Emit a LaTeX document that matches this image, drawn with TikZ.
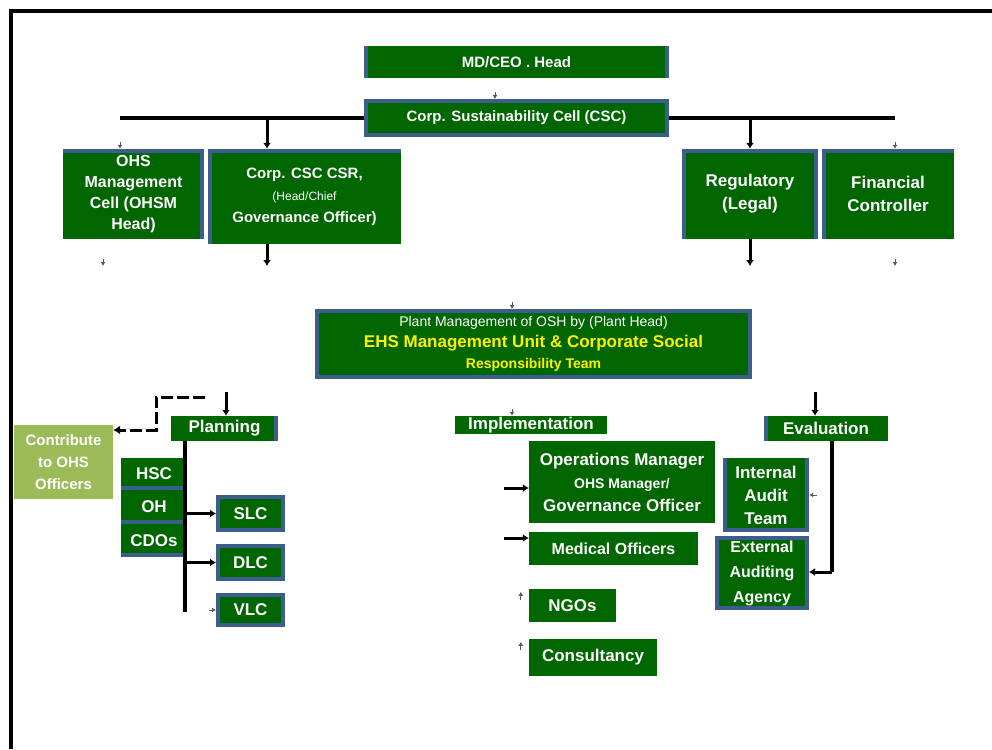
\documentclass[tikz,border=0pt]{standalone}
\usepackage{fontspec}
\setmainfont{Liberation Sans}
\usetikzlibrary{arrows.meta,positioning,calc}
\definecolor{boxgreen}{RGB}{0,102,0}
\definecolor{rimblue}{RGB}{59,94,140}
\definecolor{leafgreen}{RGB}{155,187,89}
\tikzset{
    box/.style={fill=boxgreen,draw=rimblue,line width=4pt,align=center,text=white,font=\bfseries\fontsize{17}{23}\selectfont,inner sep=0pt},
    plainbox/.style={fill=boxgreen,align=center,text=white,font=\bfseries\fontsize{17}{23}\selectfont,inner sep=0pt},
    rim/.style={rimblue,line width=4pt},
    line/.style={line width=3.5pt},
    arrow/.style={-{Latex[length=6pt,width=8pt]},line width=3pt},
    dashline/.style={-{Latex[length=7pt,width=9pt]},line width=3pt,dash pattern=on 12pt off 4pt},
    stub/.style={-{Latex[length=4pt,width=5pt]},line width=1pt,black!65}
}

\begin{document}
\begin{tikzpicture}[x=1pt,y=-1pt]
    \useasboundingbox (0,0) rectangle (992,749);
    \draw[line width=3.7pt] (10.8,749) -- (10.8,10.8) -- (992,10.8);

    % top of the chart
    \node[plainbox,minimum width=305pt,minimum height=32pt,font=\bfseries\fontsize{15}{17}\selectfont] (head) at (516.5,62) {MD/CEO . Head};
    \node[box,minimum width=301pt,minimum height=34pt,font=\bfseries\fontsize{15}{17}\selectfont] (cell) at (516.5,118) {Corp. Sustainability Cell (CSC)};
    \draw[rim] ([xshift=2pt]head.north west) -- ([xshift=2pt]head.south west);
    \draw[rim] ([xshift=-2pt]head.north east) -- ([xshift=-2pt]head.south east);

    % second row
    \node[plainbox,minimum width=141pt,minimum height=90pt,font=\bfseries\fontsize{16}{21}\selectfont] (ohs) at (133.5,194) {OHS\\Management\\Cell (OHSM\\Head)};
    \node[plainbox,minimum width=193pt,minimum height=95pt,font=\bfseries\fontsize{15}{22}\selectfont] (corp) at (304.5,196.5) {Corp. CSC CSR,\\{\mdseries\fontsize{12}{14}\selectfont (Head/Chief}\\Governance Officer)};
    \node[plainbox,minimum width=136pt,minimum height=90pt] (reg) at (750,194) {Regulatory\\(Legal)};
    \node[plainbox,minimum width=132pt,minimum height=90pt] (fin) at (888,194) {Financial\\Controller};
    \draw[rim] ([yshift=-2pt]ohs.north west) -- ([yshift=-2pt]ohs.north east);
    \draw[rim] ([xshift=-2pt]ohs.north east) -- ([xshift=-2pt]ohs.south east);
    \draw[rim] ([yshift=-2pt]corp.north west) -- ([yshift=-2pt]corp.north east);
    \draw[rim] ([xshift=2pt]corp.north west) -- ([xshift=2pt]corp.south west);
    \draw[rim] ([xshift=2pt]reg.south west) -- ([xshift=2pt,yshift=-2pt]reg.north west) -- ([xshift=-2pt,yshift=-2pt]reg.north east) -- ([xshift=-2pt]reg.south east);
    \draw[rim] ([xshift=2pt]fin.south west) -- ([xshift=2pt,yshift=-2pt]fin.north west) -- ([yshift=-2pt]fin.north east);

    \node[box,minimum width=433pt,minimum height=66pt,font=\bfseries\fontsize{17}{21}\selectfont] (plant) at (533.5,344)
        {{\mdseries\fontsize{14}{16}\selectfont Plant Management of OSH by (Plant Head)}\\\textcolor{yellow}{EHS Management Unit \& Corporate Social}\\\textcolor{yellow}{\fontsize{14}{16}\selectfont Responsibility Team}};

    % planning
    \node[plainbox,minimum width=107pt,minimum height=25pt] (plan) at (224.5,428.5) {Planning};
    \draw[rim] ([xshift=-2pt]plan.north east) -- ([xshift=-2pt]plan.south east);
    \node[plainbox,fill=leafgreen,minimum width=99pt,minimum height=74pt,font=\bfseries\fontsize{15}{22}\selectfont] (contrib) at (63.5,462) {Contribute\\to OHS\\Officers};
    \node[plainbox,minimum width=66pt,minimum height=32pt] (hsc) at (154,474) {HSC};
    \node[plainbox,minimum width=66pt,minimum height=33pt,below=0pt of hsc] (oh) {OH};
    \node[plainbox,minimum width=66pt,minimum height=33pt,below=0pt of oh] (cdos) {CDOs};
    \foreach \n in {hsc,oh,cdos}{
        \draw[rim] ([xshift=-2pt]\n.north east) -- ([xshift=-2pt,yshift=2pt]\n.south east) -- ([yshift=2pt]\n.south west);
    }
    \node[box,minimum width=65pt,minimum height=33pt] (slc) at (250.5,513.5) {SLC};
    \node[box,minimum width=65pt,minimum height=33pt] (dlc) at (250.5,562.5) {DLC};
    \node[box,minimum width=65pt,minimum height=30pt] (vlc) at (250.5,610) {VLC};

    % implementation
    \node[plainbox,minimum width=152pt,minimum height=18pt] (impl) at (531,425) {Implementation};
    \node[plainbox,minimum width=186pt,minimum height=82pt] (ops) at (622,482) {Operations Manager\\{\fontsize{14}{16}\selectfont OHS Manager/}\\Governance Officer};
    \node[plainbox,minimum width=169pt,minimum height=33pt,font=\bfseries\fontsize{16}{18}\selectfont] (med) at (613.5,548.5) {Medical Officers};
    \node[plainbox,minimum width=87pt,minimum height=33pt] (ngo) at (572.5,605.5) {NGOs};
    \node[plainbox,minimum width=128pt,minimum height=37pt] (cons) at (593,657.5) {Consultancy};

    % evaluation
    \node[plainbox,minimum width=124pt,minimum height=25pt] (eval) at (826,428.5) {Evaluation};
    \node[plainbox,minimum width=86pt,minimum height=74pt] (int) at (766,495) {Internal\\Audit\\Team};
    \node[box,minimum width=90pt,minimum height=70pt,font=\bfseries\fontsize{16}{25}\selectfont] (ext) at (762,573) {External\\Auditing\\Agency};
    \draw[rim] ([xshift=2pt]eval.north west) -- ([xshift=2pt]eval.south west);
    \draw[rim] ([xshift=2pt]int.north west) -- ([xshift=2pt,yshift=2pt]int.south west) -- ([xshift=-2pt,yshift=2pt]int.south east) -- ([xshift=-2pt]int.north east);

    % connectors
    \coordinate (barL) at (120,118);
    \coordinate (barR) at (895,118);
    \coordinate (dropL) at (267,118);
    \coordinate (gapL) at (267,266);
    \coordinate (gapR) at (750,266);
    \coordinate (tickL) at (103,266);
    \coordinate (tickR) at (895,266);
    \draw[line] (barL) -- (cell.west);
    \draw[line] (cell.east) -- (barR);
    \draw[arrow] (dropL) -- (dropL |- corp.north);
    \draw[arrow] (reg.north |- barR) -- (reg.north);
    \draw[arrow] (gapL |- corp.south) -- (gapL);
    \draw[arrow] (reg.south) -- (gapR);

    \coordinate (planin) at (226,392);
    \coordinate (dstart) at (205,397);
    \coordinate (dturn) at (156,430);
    \coordinate (trunk) at (185,612);
    \draw[arrow] (planin) -- (planin |- plan.north);
    \draw[dashline] (dstart) -| (dturn) -- (contrib.east |- dturn);
    \draw[line] (trunk |- plan.south) -- (trunk);
    \draw[arrow] (trunk |- slc.west) -- (slc.west);
    \draw[arrow] (trunk |- dlc.west) -- (dlc.west);

    \coordinate (implL) at (504,488);
    \coordinate (medL) at (504,538);
    \draw[arrow] (implL) -- (implL -| ops.west);
    \draw[arrow] (medL) -- (medL -| med.west);

    \coordinate (evalin) at (815,392);
    \coordinate (evtrunk) at (832,572);
    \draw[arrow] (evalin) -- (evalin |- eval.north);
    \draw[line] (evtrunk |- eval.south) -- (evtrunk);
    \draw[arrow] (evtrunk) -- (evtrunk -| ext.east);

    % loose arrow tips
    \draw[stub] ([xshift=-13.5pt,yshift=7pt]ohs.north) -- ([xshift=-13.5pt]ohs.north);
    \draw[stub] ([xshift=7pt,yshift=7pt]fin.north) -- ([xshift=7pt]fin.north);
    \draw[stub] ([yshift=7pt]tickL) -- (tickL);
    \draw[stub] ([yshift=7pt]tickR) -- (tickR);
    \draw[stub] ([xshift=-21.5pt,yshift=7pt]cell.north) -- ([xshift=-21.5pt]cell.north);
    \draw[stub] ([xshift=-21.5pt,yshift=7pt]plant.north) -- ([xshift=-21.5pt]plant.north);
    \draw[stub] ([xshift=-19pt,yshift=7pt]impl.north) -- ([xshift=-19pt]impl.north);
    \draw[stub] ([xshift=-7pt]vlc.west) -- (vlc.west);
    \draw[stub] ([xshift=-8pt,yshift=-11pt]ngo.north west) -- ([xshift=-8pt,yshift=-3pt]ngo.north west);
    \draw[stub] ([xshift=-8pt,yshift=-11pt]cons.north west) -- ([xshift=-8pt,yshift=-3pt]cons.north west);
    \draw[stub] ([xshift=8pt]int.east) -- (int.east);
\end{tikzpicture}
\end{document}
